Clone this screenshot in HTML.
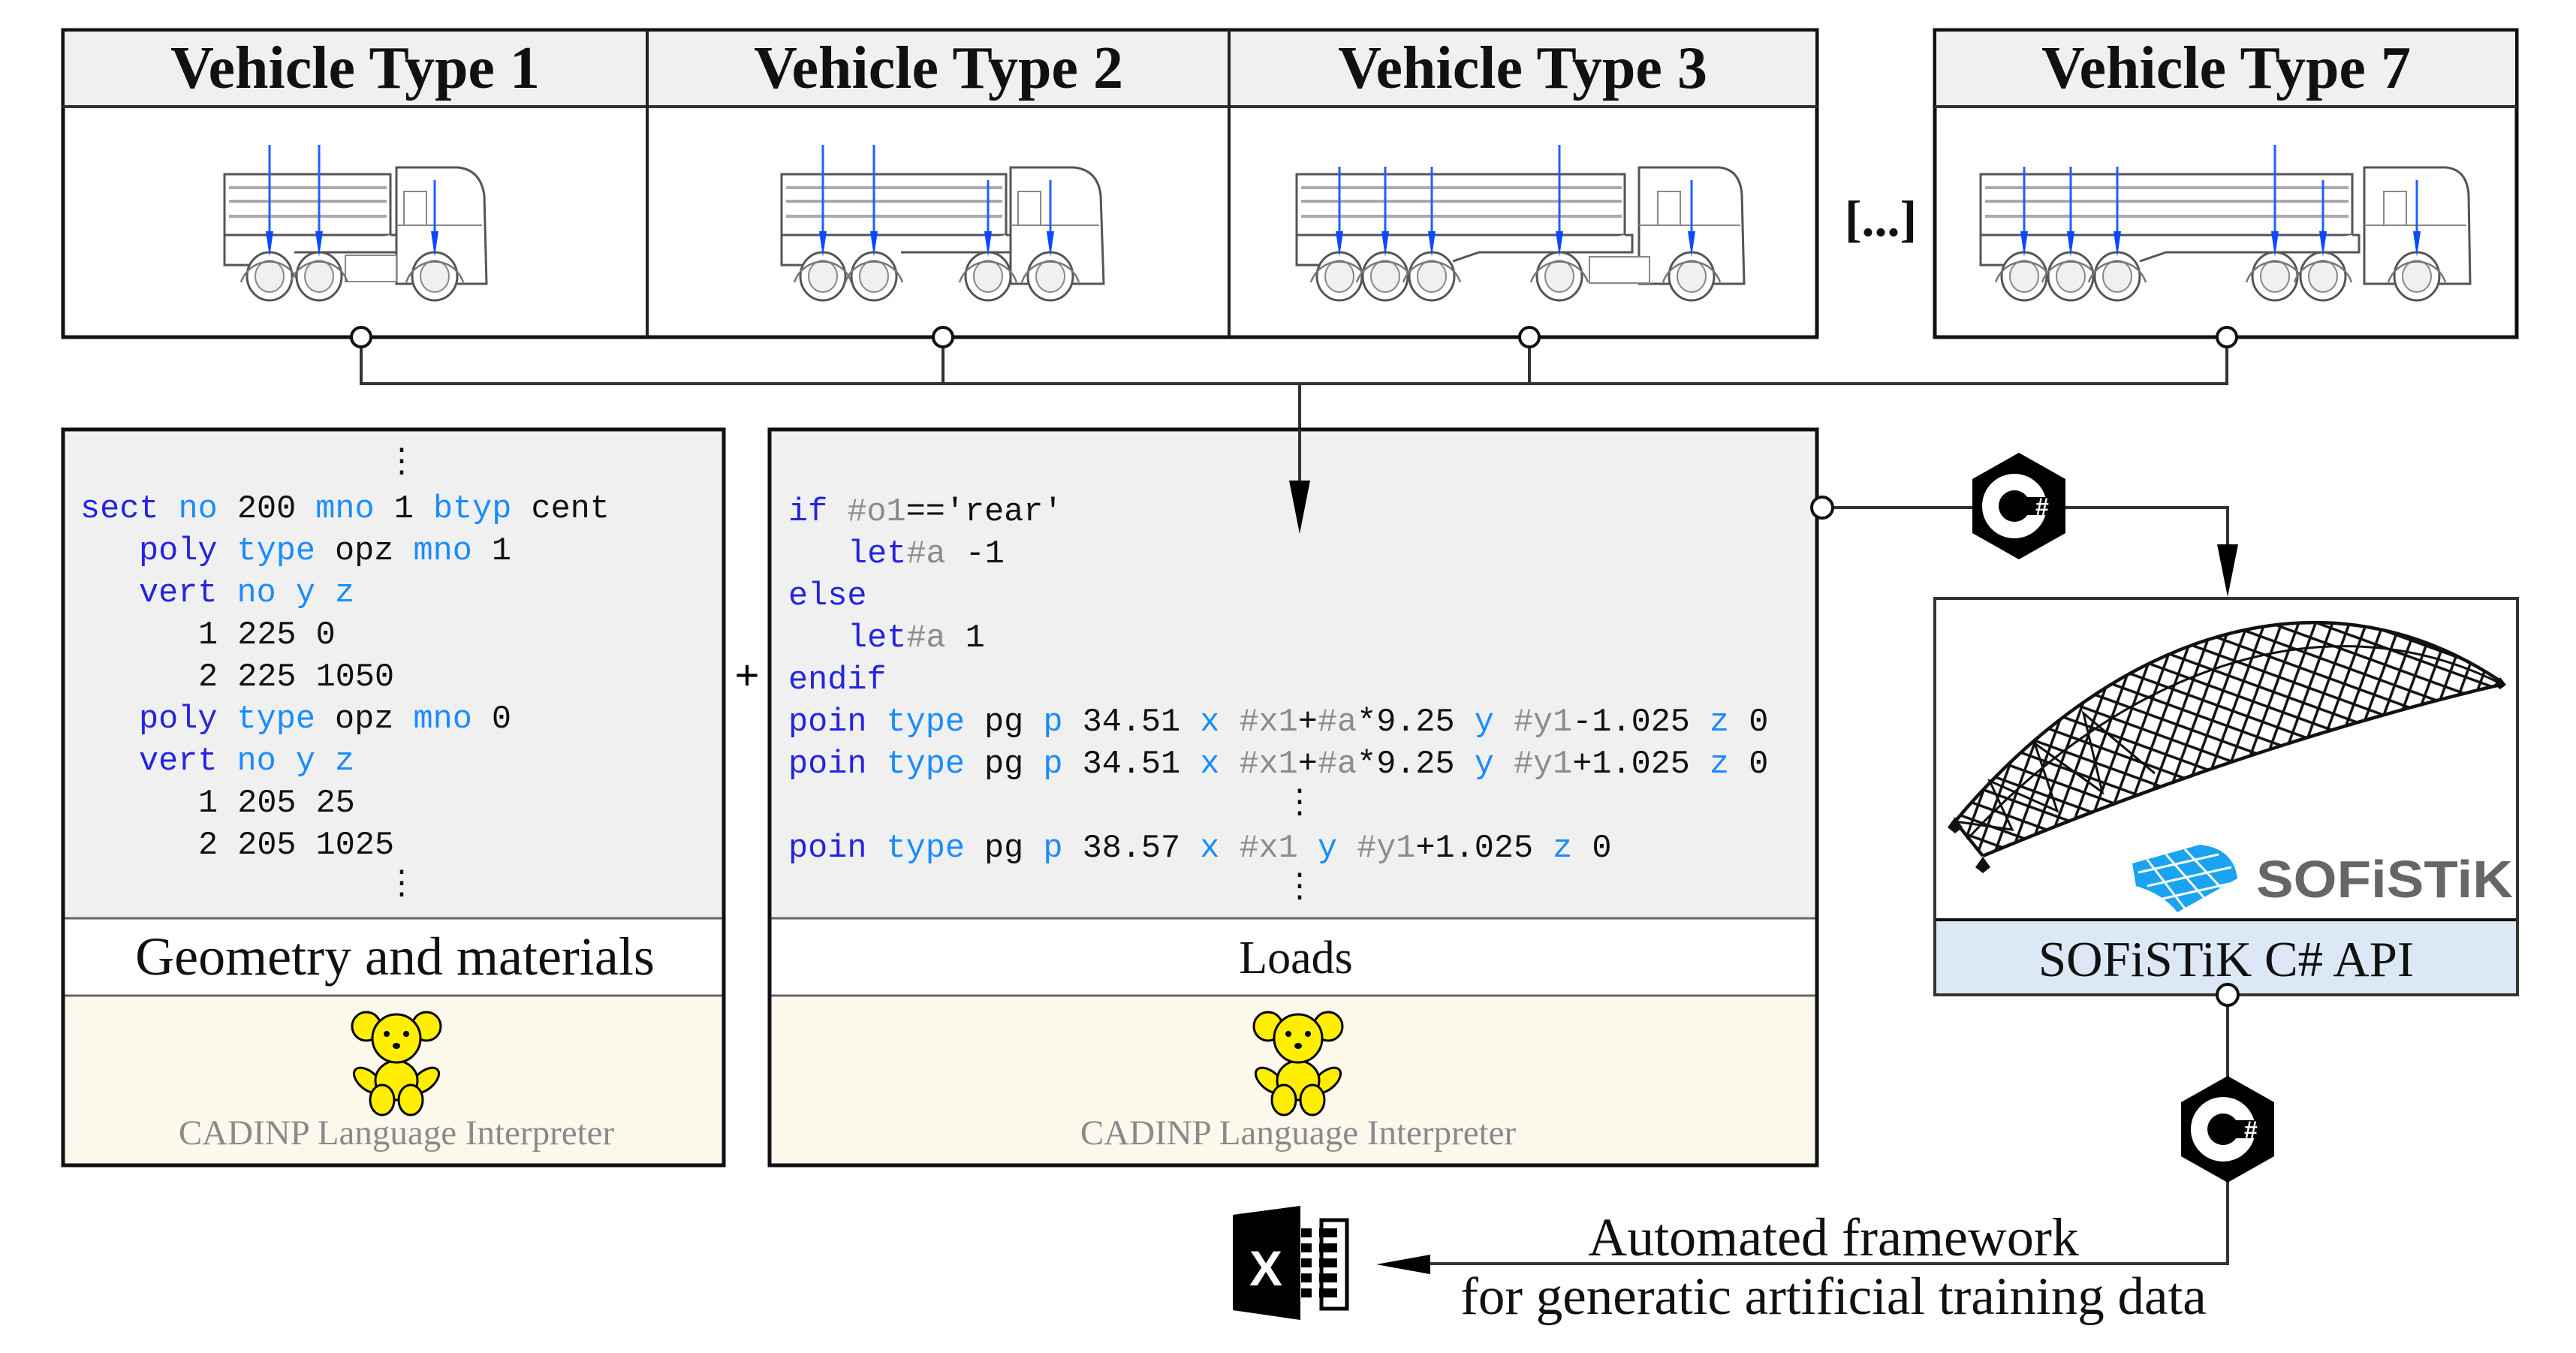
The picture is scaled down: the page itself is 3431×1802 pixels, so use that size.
<!DOCTYPE html>
<html><head><meta charset="utf-8"><style>
html,body{margin:0;padding:0;background:#fff;}
svg{display:block;}
.hdr{font-family:"Liberation Serif",serif;font-weight:bold;font-size:80px;fill:#111;}
.lbl{font-family:"Liberation Serif",serif;font-size:72px;fill:#111;}
.lbl2{font-family:"Liberation Serif",serif;font-size:62px;fill:#111;}
.cad{font-family:"Liberation Serif",serif;font-size:47px;fill:#8a8a8a;}
.c1{font-family:"Liberation Mono",monospace;font-size:43.5px;fill:#111;}
.k{fill:#2424e0;} .l{fill:#1a8cff;} .g{fill:#8c8c8c;}
.tr{fill:#fff;stroke:#555;stroke-width:3;}
.st{stroke:#aaa;stroke-width:4;}
.ar{stroke:#1f5fff;stroke-width:3;}
.ah{fill:#0b48ff;}
.ln{stroke:#333;stroke-width:4;fill:none;}
</style></head><body>
<svg width="3431" height="1802" viewBox="0 0 3431 1802" xmlns="http://www.w3.org/2000/svg">
<defs>
<g id="wheel"><ellipse cx="0" cy="0" rx="30" ry="32" fill="#fff" stroke="#555" stroke-width="3"/><ellipse cx="0" cy="0" rx="19" ry="21" fill="#f0f0f0" stroke="#888" stroke-width="2"/><path d="M-38 8 A40 40 0 0 1 38 8" fill="none" stroke="#777" stroke-width="2.5"/></g>
<g id="csharp">
<polygon points="0,-71 62,-36 62,36 0,71 -62,36 -62,-36" fill="#000"/>
<circle cx="-6" cy="0" r="43" fill="#fff"/>
<circle cx="-6" cy="0" r="21" fill="#000"/>
<rect x="0" y="-12" width="45" height="24" fill="#000"/>
<text x="22" y="12" font-family="Liberation Sans,sans-serif" font-weight="bold" font-size="32" fill="#fff">#</text>
</g>
<g id="bear">
<circle cx="-40" cy="-38" r="19" fill="#ffee00" stroke="#000" stroke-width="3"/>
<circle cx="40" cy="-38" r="19" fill="#ffee00" stroke="#000" stroke-width="3"/>
<ellipse cx="-38" cy="34" rx="22" ry="12" transform="rotate(40 -38 34)" fill="#ffee00" stroke="#000" stroke-width="3"/>
<ellipse cx="38" cy="34" rx="22" ry="12" transform="rotate(-40 38 34)" fill="#ffee00" stroke="#000" stroke-width="3"/>
<ellipse cx="0" cy="34" rx="28" ry="26" fill="#ffee00" stroke="#000" stroke-width="3"/>
<ellipse cx="-19" cy="60" rx="16" ry="20" fill="#ffee00" stroke="#000" stroke-width="3"/>
<ellipse cx="19" cy="60" rx="16" ry="20" fill="#ffee00" stroke="#000" stroke-width="3"/>
<circle cx="0" cy="-22" r="32" fill="#ffee00" stroke="#000" stroke-width="3"/>
<circle cx="-13" cy="-28" r="4" fill="#000"/><circle cx="13" cy="-28" r="4" fill="#000"/>
<ellipse cx="0" cy="-12" rx="5" ry="4" fill="#000"/>
</g>
<pattern id="lat" patternUnits="userSpaceOnUse" width="30" height="30" patternTransform="rotate(-25)">
<path d="M0 0 L30 30 M30 0 L0 30" stroke="#111" stroke-width="3.5" fill="none"/>
</pattern>
<clipPath id="brc"><path d="M2604 1094 C2800 860 3080 740 3330 907 L3330 912 Q3000 990 2641 1140 Z"/></clipPath>
</defs>

<!-- top vehicle boxes -->
<rect x="84" y="40" width="2336" height="409" fill="#fff" stroke="#111" stroke-width="5"/>
<rect x="86" y="42" width="2332" height="100" fill="#f0f0f0"/>
<line x1="84" y1="142" x2="2420" y2="142" stroke="#333" stroke-width="4"/>
<line x1="862" y1="40" x2="862" y2="449" stroke="#222" stroke-width="4"/>
<line x1="1637" y1="40" x2="1637" y2="449" stroke="#222" stroke-width="4"/>
<rect x="2577" y="40" width="775" height="409" fill="#fff" stroke="#111" stroke-width="5"/>
<rect x="2579" y="42" width="771" height="100" fill="#f0f0f0"/>
<line x1="2577" y1="142" x2="3352" y2="142" stroke="#333" stroke-width="4"/>
<text class="hdr" x="473" y="117" text-anchor="middle">Vehicle Type 1</text>
<text class="hdr" x="1250" y="117" text-anchor="middle">Vehicle Type 2</text>
<text class="hdr" x="2028" y="117" text-anchor="middle">Vehicle Type 3</text>
<text class="hdr" x="2965" y="117" text-anchor="middle">Vehicle Type 7</text>
<text x="2505" y="314" text-anchor="middle" font-family="Liberation Serif,serif" font-weight="bold" font-size="68" fill="#111">[...]</text>

<!-- Truck 1 -->
<g>
<path class="tr" d="M299 232 H520 V313 H299 Z M299 313 V353 H335"/>
<line class="st" x1="305" y1="250" x2="515" y2="250"/><line class="st" x1="305" y1="268" x2="515" y2="268"/><line class="st" x1="305" y1="288" x2="515" y2="288"/>
<path class="tr" d="M520 313 H530 V336 H392"/>
<path class="tr" d="M528 378 V223 H610 Q640 226 645 260 L648 378 Z"/>
<rect x="538" y="255" width="30" height="45" fill="none" stroke="#888" stroke-width="2"/>
<line x1="528" y1="300" x2="642" y2="300" stroke="#888" stroke-width="2"/>
<rect x="460" y="340" width="68" height="35" fill="#fff" stroke="#888" stroke-width="2"/>
<use href="#wheel" x="359" y="368"/><use href="#wheel" x="425" y="368"/><use href="#wheel" x="579" y="368"/>
<line class="ar" x1="359" y1="193" x2="359" y2="330"/><polygon class="ah" points="354,308 364,308 359,342"/>
<line class="ar" x1="425" y1="193" x2="425" y2="330"/><polygon class="ah" points="420,308 430,308 425,342"/>
<line class="ar" x1="579" y1="240" x2="579" y2="330"/><polygon class="ah" points="574,308 584,308 579,342"/>
</g>
<!-- Truck 2 -->
<g>
<path class="tr" d="M1041 232 H1340 V313 H1041 Z M1041 313 V353 H1070"/>
<line class="st" x1="1047" y1="250" x2="1335" y2="250"/><line class="st" x1="1047" y1="268" x2="1335" y2="268"/><line class="st" x1="1047" y1="288" x2="1335" y2="288"/>
<path class="tr" d="M1340 313 H1350 V336 H1200"/>
<path class="tr" d="M1346 378 V223 H1430 Q1462 226 1466 260 L1470 378 Z"/>
<rect x="1356" y="255" width="30" height="45" fill="none" stroke="#888" stroke-width="2"/>
<line x1="1346" y1="300" x2="1464" y2="300" stroke="#888" stroke-width="2"/>
<use href="#wheel" x="1096" y="368"/><use href="#wheel" x="1164" y="368"/><use href="#wheel" x="1316" y="368"/><use href="#wheel" x="1399" y="368"/>
<line class="ar" x1="1096" y1="193" x2="1096" y2="330"/><polygon class="ah" points="1091,308 1101,308 1096,342"/>
<line class="ar" x1="1164" y1="193" x2="1164" y2="330"/><polygon class="ah" points="1159,308 1169,308 1164,342"/>
<line class="ar" x1="1316" y1="240" x2="1316" y2="330"/><polygon class="ah" points="1311,308 1321,308 1316,342"/>
<line class="ar" x1="1399" y1="240" x2="1399" y2="330"/><polygon class="ah" points="1394,308 1404,308 1399,342"/>
</g>
<!-- Truck 3 -->
<g>
<path class="tr" d="M1727 232 H2164 V313 H1727 Z M1727 313 V353 H1760"/>
<line class="st" x1="1733" y1="250" x2="2160" y2="250"/><line class="st" x1="1733" y1="268" x2="2160" y2="268"/><line class="st" x1="1733" y1="288" x2="2160" y2="288"/>
<path class="tr" d="M2164 313 H2174 V336 H1970 L1935 348"/>
<path class="tr" d="M2183 378 V223 H2290 Q2318 226 2320 260 L2323 378 Z"/>
<rect x="2208" y="255" width="30" height="45" fill="none" stroke="#888" stroke-width="2"/>
<line x1="2183" y1="300" x2="2318" y2="300" stroke="#888" stroke-width="2"/>
<rect x="2117" y="342" width="80" height="35" fill="#fff" stroke="#888" stroke-width="2"/>
<use href="#wheel" x="1784" y="368"/><use href="#wheel" x="1845" y="368"/><use href="#wheel" x="1907" y="368"/><use href="#wheel" x="2077" y="368"/><use href="#wheel" x="2253" y="368"/>
<line class="ar" x1="1784" y1="222" x2="1784" y2="330"/><polygon class="ah" points="1779,308 1789,308 1784,342"/>
<line class="ar" x1="1845" y1="222" x2="1845" y2="330"/><polygon class="ah" points="1840,308 1850,308 1845,342"/>
<line class="ar" x1="1907" y1="222" x2="1907" y2="330"/><polygon class="ah" points="1902,308 1912,308 1907,342"/>
<line class="ar" x1="2077" y1="193" x2="2077" y2="330"/><polygon class="ah" points="2072,308 2082,308 2077,342"/>
<line class="ar" x1="2253" y1="240" x2="2253" y2="330"/><polygon class="ah" points="2248,308 2258,308 2253,342"/>
</g>
<!-- Truck 7 -->
<g>
<path class="tr" d="M2638 232 H3133 V313 H2638 Z M2638 313 V353 H2670"/>
<line class="st" x1="2644" y1="250" x2="3128" y2="250"/><line class="st" x1="2644" y1="268" x2="3128" y2="268"/><line class="st" x1="2644" y1="288" x2="3128" y2="288"/>
<path class="tr" d="M3133 313 H3142 V336 H2885 L2850 348"/>
<path class="tr" d="M3149 378 V223 H3258 Q3286 226 3288 260 L3290 378 Z"/>
<rect x="3175" y="255" width="30" height="45" fill="none" stroke="#888" stroke-width="2"/>
<line x1="3149" y1="300" x2="3285" y2="300" stroke="#888" stroke-width="2"/>
<use href="#wheel" x="2696" y="368"/><use href="#wheel" x="2758" y="368"/><use href="#wheel" x="2820" y="368"/><use href="#wheel" x="3030" y="368"/><use href="#wheel" x="3094" y="368"/><use href="#wheel" x="3219" y="368"/>
<line class="ar" x1="2696" y1="222" x2="2696" y2="330"/><polygon class="ah" points="2691,308 2701,308 2696,342"/>
<line class="ar" x1="2758" y1="222" x2="2758" y2="330"/><polygon class="ah" points="2753,308 2763,308 2758,342"/>
<line class="ar" x1="2820" y1="222" x2="2820" y2="330"/><polygon class="ah" points="2815,308 2825,308 2820,342"/>
<line class="ar" x1="3030" y1="193" x2="3030" y2="330"/><polygon class="ah" points="3025,308 3035,308 3030,342"/>
<line class="ar" x1="3094" y1="240" x2="3094" y2="330"/><polygon class="ah" points="3089,308 3099,308 3094,342"/>
<line class="ar" x1="3219" y1="240" x2="3219" y2="330"/><polygon class="ah" points="3214,308 3224,308 3219,342"/>
</g>

<!-- bus connectors -->
<path class="ln" d="M481 449 V511 H2966 V449 M1256 449 V511 M2037 449 V511 M1731 511 V650"/>
<circle cx="481" cy="449" r="13" fill="#fff" stroke="#111" stroke-width="4"/>
<circle cx="1256" cy="449" r="13" fill="#fff" stroke="#111" stroke-width="4"/>
<circle cx="2037" cy="449" r="13" fill="#fff" stroke="#111" stroke-width="4"/>
<circle cx="2966" cy="449" r="13" fill="#fff" stroke="#111" stroke-width="4"/>

<!-- Geometry box -->
<rect x="84" y="572" width="880" height="651" fill="#f0f0f0"/>
<rect x="84" y="1223" width="880" height="103" fill="#fff"/>
<rect x="84" y="1326" width="880" height="226" fill="#fdf8ec"/>
<line x1="84" y1="1223" x2="964" y2="1223" stroke="#666" stroke-width="3"/>
<line x1="84" y1="1326" x2="964" y2="1326" stroke="#666" stroke-width="3"/>
<rect x="84" y="572" width="880" height="980" fill="none" stroke="#111" stroke-width="5"/>
<g class="c1">
<text x="535" y="628" text-anchor="middle">⋮</text>
<text x="107" y="689"><tspan class="k">sect</tspan> <tspan class="l">no</tspan> 200 <tspan class="l">mno</tspan> 1 <tspan class="l">btyp</tspan> cent</text>
<text x="185" y="745"><tspan class="k">poly</tspan> <tspan class="l">type</tspan> opz <tspan class="l">mno</tspan> 1</text>
<text x="185" y="801"><tspan class="k">vert</tspan> <tspan class="l">no y z</tspan></text>
<text x="264" y="857">1 225 0</text>
<text x="264" y="913">2 225 1050</text>
<text x="185" y="969"><tspan class="k">poly</tspan> <tspan class="l">type</tspan> opz <tspan class="l">mno</tspan> 0</text>
<text x="185" y="1025"><tspan class="k">vert</tspan> <tspan class="l">no y z</tspan></text>
<text x="264" y="1081">1 205 25</text>
<text x="264" y="1137">2 205 1025</text>
<text x="535" y="1190" text-anchor="middle">⋮</text>
</g>
<text class="lbl" x="526" y="1298" text-anchor="middle">Geometry and materials</text>
<use href="#bear" x="528" y="1405"/>
<text class="cad" x="528" y="1524" text-anchor="middle">CADINP Language Interpreter</text>

<text x="995" y="918" text-anchor="middle" font-family="Liberation Sans,sans-serif" font-size="56" fill="#000">+</text>

<!-- Loads box -->
<rect x="1025" y="572" width="1395" height="651" fill="#f0f0f0"/>
<rect x="1025" y="1223" width="1395" height="103" fill="#fff"/>
<rect x="1025" y="1326" width="1395" height="226" fill="#fdf8ec"/>
<line x1="1025" y1="1223" x2="2420" y2="1223" stroke="#666" stroke-width="3"/>
<line x1="1025" y1="1326" x2="2420" y2="1326" stroke="#666" stroke-width="3"/>
<rect x="1025" y="572" width="1395" height="980" fill="none" stroke="#111" stroke-width="5"/>
<line x1="1731" y1="572" x2="1731" y2="650" stroke="#333" stroke-width="4"/>
<polygon points="1717,640 1745,640 1731,711" fill="#000"/>
<g class="c1">
<text x="1050" y="693"><tspan class="k">if</tspan> <tspan class="g">#o1</tspan>=='rear'</text>
<text x="1129" y="749"><tspan class="k">let</tspan><tspan class="g">#a</tspan> -1</text>
<text x="1050" y="805"><tspan class="k">else</tspan></text>
<text x="1129" y="861"><tspan class="k">let</tspan><tspan class="g">#a</tspan> 1</text>
<text x="1050" y="917"><tspan class="k">endif</tspan></text>
<text x="1050" y="973"><tspan class="k">poin</tspan> <tspan class="l">type</tspan> pg <tspan class="l">p</tspan> 34.51 <tspan class="l">x</tspan> <tspan class="g">#x1</tspan>+<tspan class="g">#a</tspan>*9.25 <tspan class="l">y</tspan> <tspan class="g">#y1</tspan>-1.025 <tspan class="l">z</tspan> 0</text>
<text x="1050" y="1029"><tspan class="k">poin</tspan> <tspan class="l">type</tspan> pg <tspan class="l">p</tspan> 34.51 <tspan class="l">x</tspan> <tspan class="g">#x1</tspan>+<tspan class="g">#a</tspan>*9.25 <tspan class="l">y</tspan> <tspan class="g">#y1</tspan>+1.025 <tspan class="l">z</tspan> 0</text>
<text x="1731" y="1082" text-anchor="middle">⋮</text>
<text x="1050" y="1141"><tspan class="k">poin</tspan> <tspan class="l">type</tspan> pg <tspan class="l">p</tspan> 38.57 <tspan class="l">x</tspan> <tspan class="g">#x1</tspan> <tspan class="l">y</tspan> <tspan class="g">#y1</tspan>+1.025 <tspan class="l">z</tspan> 0</text>
<text x="1731" y="1194" text-anchor="middle">⋮</text>
</g>
<text class="lbl2" x="1726" y="1296" text-anchor="middle">Loads</text>
<use href="#bear" x="1729" y="1405"/>
<text class="cad" x="1729" y="1524" text-anchor="middle">CADINP Language Interpreter</text>

<!-- right connector -->
<path class="ln" d="M2427 676 H2967 V730"/>
<polygon points="2953,725 2981,725 2967,795" fill="#000"/>
<circle cx="2427" cy="676" r="14" fill="#fff" stroke="#111" stroke-width="4"/>
<use href="#csharp" x="2689" y="674"/>

<!-- SOFiSTiK box -->
<rect x="2577" y="797" width="776" height="428" fill="#fff"/>
<rect x="2577" y="1225" width="776" height="100" fill="#dce8f5"/>
<line x1="2577" y1="1225" x2="3353" y2="1225" stroke="#111" stroke-width="4"/>
<rect x="2577" y="797" width="776" height="528" fill="none" stroke="#333" stroke-width="4"/>
<text x="2965" y="1300" text-anchor="middle" font-family="Liberation Serif,serif" font-size="67" fill="#111">SOFiSTiK C# API</text>
<!-- bridge -->
<rect x="2590" y="800" width="760" height="360" fill="url(#lat)" clip-path="url(#brc)"/>
<g fill="none" stroke="#111" stroke-width="4.5">
<path d="M2604 1094 C2800 860 3080 740 3330 907"/>
<path d="M2641 1140 Q3000 990 3330 912"/>
<path d="M2620 1118 C2820 900 3090 790 3330 910" stroke-width="3"/>
<line x1="2604" y1="1094" x2="2641" y2="1140"/>
<polyline stroke-width="3" points="2604,1094 2680,1105 2650,1040 2740,1080 2710,990 2800,1055 2775,950 2870,1030"/>
</g>
<path d="M2594 1102 l10 -14 10 14 -10 8z M2631 1155 l10 -14 10 14 -10 8z M3322 912 l8 -10 8 10 -8 6z" fill="#111"/>
<!-- SOFiSTiK logo -->
<g>
<path d="M2840 1150 L2930 1125 Q2975 1130 2980 1170 L2900 1215 Q2880 1190 2845 1180 Z" fill="#1aa3f0"/>
<g stroke="#fff" stroke-width="3">
<line x1="2860" y1="1145" x2="2910" y2="1210"/><line x1="2885" y1="1138" x2="2935" y2="1195"/><line x1="2910" y1="1131" x2="2958" y2="1182"/>
<line x1="2848" y1="1162" x2="2955" y2="1138"/><line x1="2860" y1="1180" x2="2972" y2="1155"/><line x1="2880" y1="1197" x2="2978" y2="1175"/>
</g>
<text x="3005" y="1195" font-family="Liberation Sans,sans-serif" font-weight="bold" font-size="70" fill="#666" textLength="342" lengthAdjust="spacingAndGlyphs">SOFiSTiK</text>
</g>

<!-- bottom connector -->
<path class="ln" d="M2967 1325 V1683 H1900"/>
<polygon points="1833,1684 1905,1671 1905,1697" fill="#000"/>
<circle cx="2967" cy="1325" r="14" fill="#fff" stroke="#111" stroke-width="4"/>
<use href="#csharp" x="2967" y="1504"/>
<text x="2442" y="1672" text-anchor="middle" font-family="Liberation Serif,serif" font-size="72" fill="#111">Automated framework</text>
<text x="2442" y="1750" text-anchor="middle" font-family="Liberation Serif,serif" font-size="71" fill="#111">for generatic artificial training data</text>

<!-- Excel icon -->
<g>
<rect x="1760" y="1625" width="34" height="118" fill="#fff" stroke="#000" stroke-width="5"/>
<g fill="#000">
<rect x="1733" y="1636" width="14" height="12"/><rect x="1757" y="1636" width="24" height="12"/>
<rect x="1733" y="1656" width="14" height="12"/><rect x="1757" y="1656" width="24" height="12"/>
<rect x="1733" y="1676" width="14" height="12"/><rect x="1757" y="1676" width="24" height="12"/>
<rect x="1733" y="1696" width="14" height="12"/><rect x="1757" y="1696" width="24" height="12"/>
<rect x="1733" y="1716" width="14" height="12"/><rect x="1757" y="1716" width="24" height="12"/>
</g>
<polygon points="1642,1618 1732,1606 1732,1758 1642,1745" fill="#000"/>
<text x="1686" y="1712" text-anchor="middle" font-family="Liberation Sans,sans-serif" font-weight="bold" font-size="66" fill="#fff">X</text>
</g>
</svg>
</body></html>
